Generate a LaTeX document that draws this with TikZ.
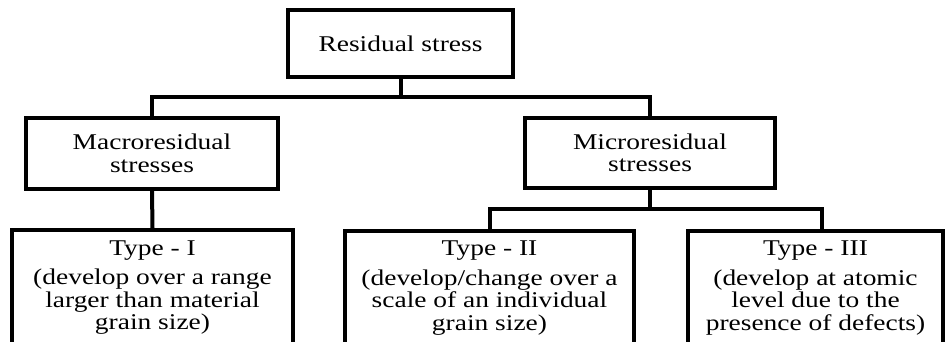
\documentclass[tikz,border=0pt]{standalone}
\usepackage{fontspec}
\setmainfont{Liberation Serif}[FakeStretch=1.22]
\begin{document}
\begin{tikzpicture}[x=1pt,y=1pt,
  box/.style={draw=black, line width=4pt, rectangle, inner sep=0pt, align=center,
    font=\fontsize{22.5}{22.5}\selectfont},
  conn/.style={draw=black, line width=4pt}]
\useasboundingbox (0,0) rectangle (945,341);
\clip (0,0) rectangle (945,341);
\node[box, minimum width=225pt, minimum height=67pt] (top) at (400.5,297.5) {Residual stress};
\node[box, minimum width=252pt, minimum height=71pt] (macro) at (152,187.5) {Macroresidual\\stresses};
\node[box, minimum width=250pt, minimum height=70pt] (micro) at (650,188) {Microresidual\\stresses};
\node[box, minimum width=281pt, minimum height=115pt] (t1) at (152.5,53.5)
  {Type - I\\[7pt](develop over a range\\larger than material\\grain size)};
\node[box, minimum width=289pt, minimum height=114pt] (t2) at (489.5,53)
  {Type - II\\[7pt](develop/change over a\\scale of an individual\\grain size)};
\node[box, minimum width=255pt, minimum height=114pt] (t3) at (815.5,53)
  {Type - III\\[7pt](develop at atomic\\level due to the\\presence of defects)};
\coordinate (h1) at (0,244);
\coordinate (h2) at (0,132);
\coordinate (t3in) at ([xshift=6.5pt]t3.north);
\draw[conn] (top.south) -- (top.south |- h1);
\draw[conn] (macro.north) -- (macro.north |- h1) -- (micro.north |- h1) -- (micro.north);
\draw[conn] (macro.south) -- (t1.north);
\draw[conn] (micro.south) -- (micro.south |- h2);
\draw[conn] (t2.north) -- (t2.north |- h2) -- (t3in |- h2) -- (t3in);
\end{tikzpicture}
\end{document}
